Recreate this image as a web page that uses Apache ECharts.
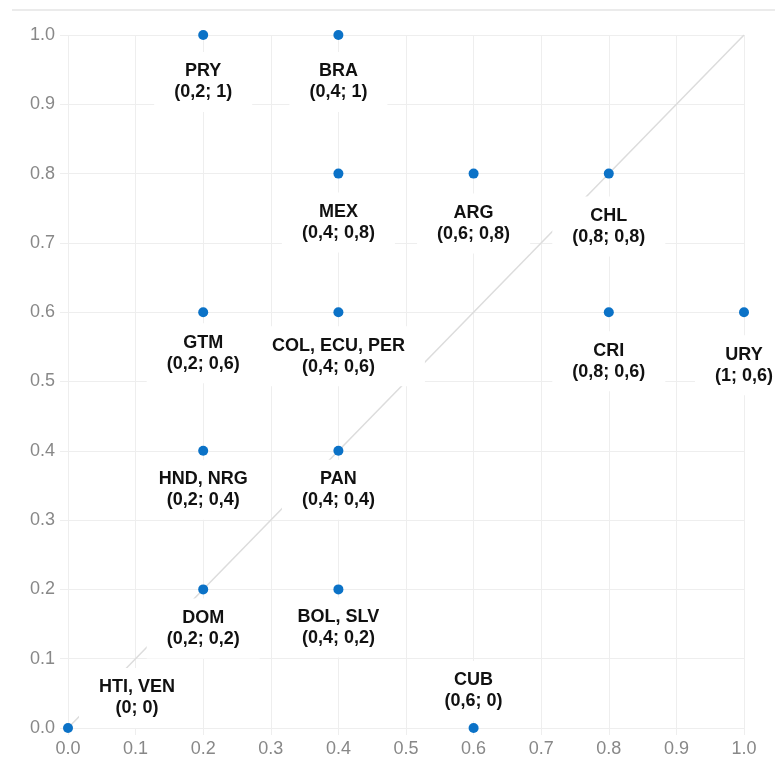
<!DOCTYPE html>
<html>
<head>
<meta charset="utf-8">
<script src="https://cdn.jsdelivr.net/npm/echarts@6/dist/echarts.min.js"></script>
<style>
html,body{margin:0;padding:0;background:#fff;}
#chart{width:775px;height:762px;}
</style>
</head>
<body>
<div id="chart"></div>
<script>
// ---- data ----
const names = ['PRY','BRA','MEX','ARG','CHL','GTM','COL, ECU, PER','CRI','URY','HND, NRG','PAN','DOM','BOL, SLV','HTI, VEN','CUB'];
const xVals = [0.2,0.4,0.4,0.6,0.8,0.2,0.4,0.8,1,0.2,0.4,0.2,0.4,0,0.6];
const yVals = [1,1,0.8,0.8,0.8,0.6,0.6,0.6,0.6,0.4,0.4,0.2,0.2,0,0];
const diagonal = [[0,0],[1,1]];

// ---- label placement styles (pixel offsets of label centre from point) ----
const labelOffsets = {
  'PRY': [0, 47], 'BRA': [0, 47], 'MEX': [0, 49], 'ARG': [0, 50], 'CHL': [0, 53],
  'GTM': [0, 41], 'COL, ECU, PER': [0, 44], 'CRI': [0, 49], 'URY': [0, 53],
  'HND, NRG': [0, 39], 'PAN': [0, 39], 'DOM': [0, 39], 'BOL, SLV': [0, 38],
  'HTI, VEN': [69, -30], 'CUB': [0, -37]
};
const fmt = v => String(v).replace('.', ',');

const scatterData = names.map((n, i) => ({
  name: n,
  value: [xVals[i], yVals[i]],
  label: { offset: labelOffsets[n] || [0, 44] }
}));

const chart = echarts.init(document.getElementById('chart'), null, { renderer: 'canvas' });
const gridColor = '#eeeeee';
const axisFont = { color: '#888', fontSize: 18, fontFamily: 'Liberation Sans, Arial, sans-serif' };

chart.setOption({
  animation: false,
  backgroundColor: '#fff',
  grid: { left: 68, right: 31, top: 35, bottom: 34, containLabel: false },
  graphic: [{
    type: 'line', shape: { x1: 12, y1: 10, x2: 775, y2: 10 },
    style: { stroke: '#ebebeb', lineWidth: 2 }, silent: true
  }],
  xAxis: [{
    type: 'value', min: 0, max: 1, interval: 0.1,
    axisLine: { show: false },
    axisTick: { show: true, length: 7, lineStyle: { color: gridColor } },
    splitLine: { show: true, lineStyle: { color: gridColor, width: 1 } },
    axisLabel: Object.assign({ margin: 12, formatter: v => v.toFixed(1) }, axisFont)
  }, {
    type: 'value', position: 'top', min: 0, max: 1, interval: 0.1,
    axisLine: { show: false },
    axisTick: { show: true, length: 10, lineStyle: { color: gridColor } },
    splitLine: { show: false }, axisLabel: { show: false }
  }],
  yAxis: [{
    type: 'value', min: 0, max: 1, interval: 0.1,
    axisLine: { show: false },
    axisTick: { show: true, length: 8, lineStyle: { color: gridColor } },
    splitLine: { show: true, lineStyle: { color: gridColor, width: 1 } },
    axisLabel: Object.assign({ margin: 13, formatter: v => v.toFixed(1) }, axisFont)
  }, {
    type: 'value', position: 'right', min: 0, max: 1, interval: 0.1,
    axisLine: { show: false },
    axisTick: { show: true, length: 14, lineStyle: { color: gridColor } },
    splitLine: { show: false }, axisLabel: { show: false }
  }],
  series: [{
    type: 'line',
    data: diagonal,
    showSymbol: false,
    silent: true,
    z: 1,
    lineStyle: { color: '#dcdcdc', width: 1.5 }
  }, {
    type: 'scatter',
    data: scatterData,
    symbolSize: 10,
    zlevel: 1,
    z: 3,
    itemStyle: { color: '#0b72c7', opacity: 1 },
    label: {
      show: true,
      position: 'inside',
      align: 'center',
      verticalAlign: 'middle',
      formatter: p => p.name + '\n(' + fmt(p.value[0]) + '; ' + fmt(p.value[1]) + ')',
      fontFamily: 'Liberation Sans, Arial, sans-serif',
      fontWeight: 'bold',
      fontSize: 18,
      lineHeight: 21,
      color: '#111',
      backgroundColor: '#fff',
      padding: [9, 20]
    }
  }]
});
</script>
</body>
</html>
